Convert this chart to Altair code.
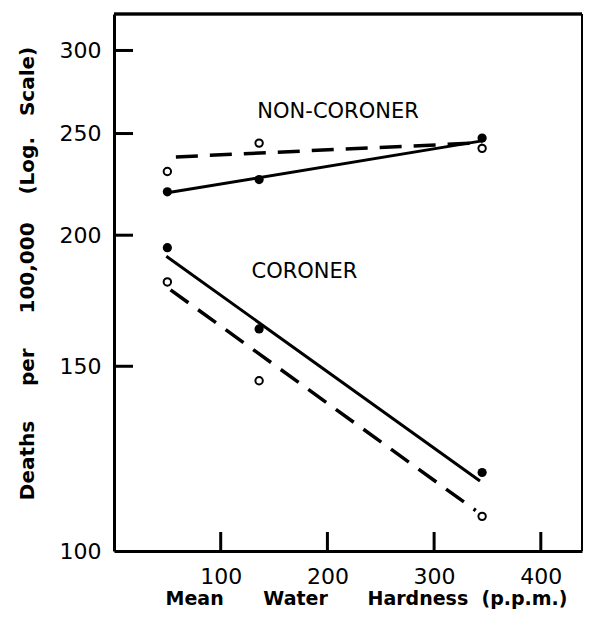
import altair as alt
import pandas as pd

# ---- data ----
x_points = [50, 136, 345]
nc_filled = [220, 226, 247.5]
nc_open = [230, 244.8, 242]
c_filled = [194.6, 162.8, 118.8]
c_open = [180.5, 145.3, 107.9]

nc_solid_x = [50, 345]
nc_solid_y = [219.5, 246]
nc_dash_x = [58, 345]
nc_dash_y = [237.5, 245]
c_solid_x = [49, 343]
c_solid_y = [191, 116.6]
c_dash_x = [53, 339]
c_dash_y = [177.4, 109.3]

x_ticks = [100, 200, 300, 400]
y_ticks = [150, 200, 250, 300]
y_labels = [100, 150, 200, 250, 300]

labels = ["NON-CORONER", "CORONER"]
label_x = [210, 178.5]
label_y = [262, 184.5]

W, H = 468, 537
FONT = "DejaVu Sans"
NB = "\u00a0"

filled = pd.DataFrame({"x": x_points * 2, "y": nc_filled + c_filled})
opened = pd.DataFrame({"x": x_points * 2, "y": nc_open + c_open})
solid = pd.DataFrame({
    "x": nc_solid_x + c_solid_x,
    "y": nc_solid_y + c_solid_y,
    "s": ["nc", "nc", "c", "c"],
})
dashed = pd.DataFrame({
    "x": nc_dash_x + c_dash_x,
    "y": nc_dash_y + c_dash_y,
    "s": ["nc", "nc", "c", "c"],
})
xt = pd.DataFrame({"x": x_ticks})
yt = pd.DataFrame({"y": y_ticks})
lab = pd.DataFrame({"t": labels, "x": label_x, "y": label_y})

xscale = alt.Scale(domain=[0, 438.6], nice=False, zero=False)
yscale = alt.Scale(type="log", domain=[100, 325], nice=False, zero=False)

xtitle = "Mean" + NB * 6 + "Water" + NB * 6 + "Hardness" + NB * 2 + "(p.p.m.)"
ytitle = ("Deaths" + NB * 5 + "per" + NB * 5 + "100,000" + NB * 4
          + "(Log." + NB * 3 + "Scale)")

xaxis = alt.Axis(
    values=x_ticks, tickSize=0, labelPadding=15, labelFontSize=22,
    labelFont=FONT, labelColor="black", grid=False,
    domainColor="black", domainWidth=3,
    title=xtitle,
    titleFont=FONT, titleFontSize=19, titleFontWeight="bold", titleColor="black",
    titleX=252, titleY=53, titleBaseline="alphabetic", titleAlign="center",
)
yaxis = alt.Axis(
    values=y_labels, tickSize=0, labelPadding=13, labelFontSize=22,
    labelFont=FONT, labelColor="black", grid=False, labelBaseline="middle",
    domainColor="black", domainWidth=3, format="d",
    title=ytitle,
    titleFont=FONT, titleFontSize=20, titleFontWeight="bold", titleColor="black",
    titleAngle=-90, titleX=-81, titleY=259, titleBaseline="alphabetic", titleAlign="center",
)

X = alt.X("x:Q", scale=xscale, axis=xaxis)
Y = alt.Y("y:Q", scale=yscale, axis=yaxis)

frame_top = alt.Chart(xt).mark_rule(color="black", strokeWidth=2.5).encode(
    x=alt.value(0), x2=alt.value(W), y=alt.value(0)
)
frame_right = alt.Chart(xt).mark_rule(color="black", strokeWidth=1.5).encode(
    x=alt.value(W), y=alt.value(0), y2=alt.value(H)
)
xtick_layer = alt.Chart(xt).mark_rule(color="black", strokeWidth=3).encode(
    x=X, y=alt.value(H), y2=alt.value(H - 19)
)
ytick_layer = alt.Chart(yt).mark_rule(color="black", strokeWidth=3).encode(
    y=Y, x=alt.value(0), x2=alt.value(19)
)
solid_layer = alt.Chart(solid).mark_line(color="black", strokeWidth=3).encode(
    x=X, y=Y, detail="s:N"
)
dash_layer = alt.Chart(dashed).mark_line(
    color="black", strokeWidth=3.5, strokeDash=[22, 12]
).encode(x=X, y=Y, detail="s:N")
filled_layer = alt.Chart(filled).mark_circle(color="black", size=85, opacity=1).encode(
    x=X, y=Y
)
open_layer = alt.Chart(opened).mark_point(
    shape="circle", filled=False, stroke="black", strokeWidth=2, size=55, opacity=1
).encode(x=X, y=Y)
text_layer = alt.Chart(lab).mark_text(
    font=FONT, fontSize=21, color="black", align="center", baseline="middle"
).encode(x=X, y=Y, text="t:N")

chart = alt.layer(
    xtick_layer, ytick_layer, frame_top, frame_right,
    solid_layer, dash_layer, filled_layer, open_layer, text_layer
).properties(
    width=W, height=H,
    autosize=alt.AutoSizeParams(type="none"),
    padding={"left": 106, "top": 6, "right": 1, "bottom": 59},
).configure_view(
    strokeWidth=0
).configure(background="white")

chart.save("out.html", embed_options={"renderer": "svg", "actions": False})
